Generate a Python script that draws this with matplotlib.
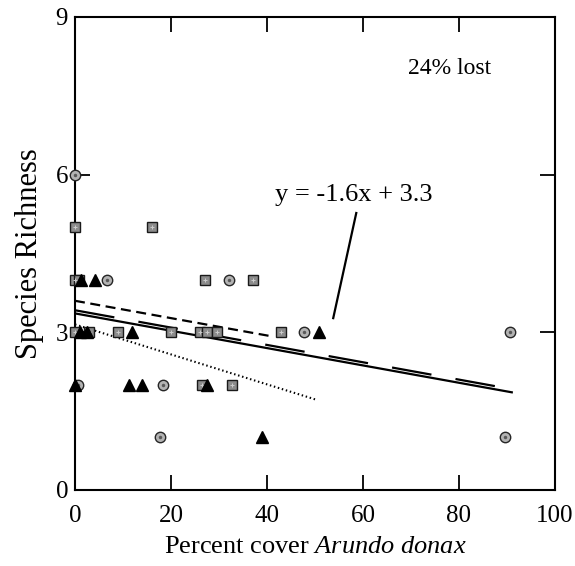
import matplotlib as mpl
mpl.use('Agg')
from matplotlib import pyplot as plt
import numpy as np

plt.rcParams['font.family'] = ['Liberation Serif', 'DejaVu Serif']
plt.rcParams['mathtext.fontset'] = 'custom'
plt.rcParams['mathtext.rm'] = 'Liberation Serif'
plt.rcParams['mathtext.it'] = 'Liberation Serif:italic'

# gray circles
circle_x = [0, 6.7, 32, 47.7, 90.6, 18.3, 17.7, 89.5, 0.6]
circle_y = [6, 4, 4, 3, 3, 2, 1, 1, 2]

# stippled squares
square_x = [0, 16, 0, 0.8, 27, 37, 0, 3, 9, 20, 26, 27.5, 29.5, 43, 26.5, 32.7]
square_y = [5, 5, 4, 4, 4, 4, 3, 3, 3, 3, 3, 3, 3, 3, 2, 2]

# black triangles
tri_x = [1.2, 4.2, 1, 2.6, 11.8, 50.8, 11.2, 14, 27.5, 39, 0]
tri_y = [4, 4, 3, 3, 3, 3, 2, 2, 2, 1, 2]

# fitted lines: (intercept, slope per percent, x end)
solid_fit = (3.36, -0.0165, 91)
longdash_fit = (3.42, -0.0165, 89)
dash_fit = (3.60, -0.0165, 40.6)
dot_fit = (3.15, -0.0285, 50.5)


def fit_line(ax, fit, **kw):
  b, m, x_end = fit
  xs = np.array([0, x_end])
  ax.plot(xs, b + m * xs, color='black', **kw)


fig = plt.figure(figsize=(5.75, 5.66), dpi=100)
ax = fig.add_axes([0.1304, 0.1343, 0.8348, 0.8357])

fit_line(ax, solid_fit, lw=1.6)
fit_line(ax, longdash_fit, lw=1.6, dashes=(18, 11))
fit_line(ax, dash_fit, lw=1.6, dashes=(4.5, 2.5))
fit_line(ax, dot_fit, lw=1.5, dashes=(0.7, 1.3))

ax.plot(square_x, square_y, 's', ms=7.5, mfc='0.55', mec='0.1', mew=1.0,
        linestyle='none', clip_on=False, zorder=3)
ax.plot(square_x, square_y, '+', ms=3.5, mec='0.8', mew=0.7,
        linestyle='none', clip_on=False, zorder=3)
ax.plot(circle_x, circle_y, 'o', ms=7.5, mfc='0.7', mec='0.15', mew=1.0,
        linestyle='none', clip_on=False, zorder=4)
ax.plot(circle_x, circle_y, 'o', ms=2.5, mfc='0.35', mec='none',
        linestyle='none', clip_on=False, zorder=4)
ax.plot(tri_x, tri_y, '^', ms=9, mfc='black', mec='black',
        linestyle='none', clip_on=False, zorder=5)

ax.set_xlim(0, 100)
ax.set_ylim(0, 9)
ax.set_xticks([0, 20, 40, 60, 80, 100])
ax.set_yticks([0, 3, 6, 9])
ax.tick_params(direction='in', length=11, width=1.3, top=True, right=True,
               labelsize=18, pad=5)
ax.tick_params(axis='x', pad=11)
for s in ax.spines.values():
  s.set_linewidth(1.5)

ax.set_xlabel('Percent cover $\\it{Arundo\\ donax}$', fontsize=19, labelpad=6)
ax.set_ylabel('Species Richness', fontsize=22, labelpad=8)

ax.text(78, 8.02, '24% lost', fontsize=17, ha='center', va='center')
ax.text(58, 5.62, 'y = -1.6x + 3.3', fontsize=19, ha='center', va='center')
ax.plot([58.6, 53.8], [5.27, 3.27], color='black', lw=1.6)

fig.savefig('out.png')
